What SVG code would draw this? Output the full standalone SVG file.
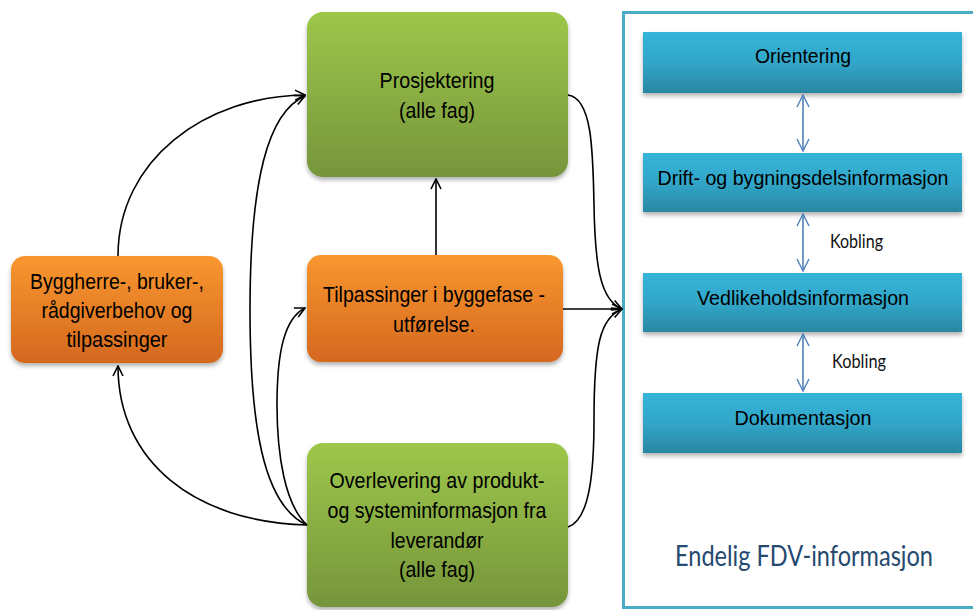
<svg xmlns="http://www.w3.org/2000/svg" width="973" height="610" viewBox="0 0 973 610">
  <defs>
    <linearGradient id="gGreen" x1="0" y1="0" x2="0" y2="1">
      <stop offset="0" stop-color="#9DC74B"/>
      <stop offset="1" stop-color="#76953B"/>
    </linearGradient>
    <linearGradient id="gOrange" x1="0" y1="0" x2="0" y2="1">
      <stop offset="0" stop-color="#F9972F"/>
      <stop offset="1" stop-color="#D4681F"/>
    </linearGradient>
    <linearGradient id="gBlue" x1="0" y1="0" x2="0" y2="1">
      <stop offset="0" stop-color="#36B5DA"/>
      <stop offset="0.5" stop-color="#31A6C9"/>
      <stop offset="1" stop-color="#2A87A2"/>
    </linearGradient>
    <filter id="shadow" x="-10%" y="-10%" width="120%" height="130%">
      <feDropShadow dx="0" dy="3" stdDeviation="2" flood-color="#000" flood-opacity="0.3"/>
    </filter>
    <marker id="arrow" viewBox="0 0 12 12" refX="11" refY="6" markerWidth="12" markerHeight="12" markerUnits="userSpaceOnUse" orient="auto">
      <path d="M1,1 L11,6 L1,11" fill="none" stroke="#000" stroke-width="1.6"/>
    </marker>
    <marker id="barrowEnd" viewBox="0 0 14 14" refX="13" refY="7" markerWidth="14" markerHeight="14" markerUnits="userSpaceOnUse" orient="auto">
      <path d="M1,1 L13,7 L1,13" fill="none" stroke="#4F81BD" stroke-width="1.4"/>
    </marker>
    <marker id="barrowStart" viewBox="0 0 14 14" refX="1" refY="7" markerWidth="14" markerHeight="14" markerUnits="userSpaceOnUse" orient="auto">
      <path d="M13,1 L1,7 L13,13" fill="none" stroke="#4F81BD" stroke-width="1.4"/>
    </marker>
  </defs>
  <style>
    .green { fill: url(#gGreen); filter: url(#shadow); }
    .orange { fill: url(#gOrange); filter: url(#shadow); }
    .blue { fill: url(#gBlue); filter: url(#shadow); }
    .lbl { font-family: "Liberation Sans", Arial, sans-serif; font-size: 22px; fill: #000; text-anchor: middle; }
    .blbl { font-family: "Liberation Sans", Arial, sans-serif; font-size: 20px; fill: #000; text-anchor: middle; }
    .kob { font-family: Lato, "Open Sans", sans-serif; font-size: 19px; fill: #111; }
    .title { font-family: Lato, "Open Sans", sans-serif; font-size: 29px; fill: #25496F; }
    .conn { fill: none; stroke: #000; stroke-width: 1.6; marker-end: url(#arrow); }
    .link { fill: none; stroke: #4F81BD; stroke-width: 1.6; marker-start: url(#barrowStart); marker-end: url(#barrowEnd); }
  </style>

  <rect width="973" height="610" fill="#FFFFFF"/>

  <!-- Container for final FDV information -->
  <g id="fdv-container">
    <rect x="623.5" y="12.5" width="360" height="595" fill="none" stroke="#4BACC6" stroke-width="3"/>
    <text class="title" x="675" y="566" textLength="258" lengthAdjust="spacingAndGlyphs">Endelig FDV-informasjon</text>
  </g>

  <!-- Process boxes -->
  <g id="prosjektering">
    <rect class="green" x="307" y="12" width="261" height="165" rx="16"/>
    <text class="lbl" x="437" y="88" textLength="115" lengthAdjust="spacingAndGlyphs">Prosjektering</text>
    <text class="lbl" x="437" y="118" textLength="76" lengthAdjust="spacingAndGlyphs">(alle fag)</text>
  </g>

  <g id="byggherre">
    <rect class="orange" x="11" y="256" width="212" height="107" rx="14"/>
    <text class="lbl" x="117" y="289" textLength="174" lengthAdjust="spacingAndGlyphs">Byggherre-, bruker-,</text>
    <text class="lbl" x="117" y="318" textLength="151" lengthAdjust="spacingAndGlyphs">rådgiverbehov og</text>
    <text class="lbl" x="117" y="347" textLength="101" lengthAdjust="spacingAndGlyphs">tilpassinger</text>
  </g>

  <g id="tilpassinger">
    <rect class="orange" x="307" y="255" width="256" height="107" rx="14"/>
    <text class="lbl" x="434" y="302" textLength="222" lengthAdjust="spacingAndGlyphs">Tilpassinger i byggefase -</text>
    <text class="lbl" x="434" y="332" textLength="82" lengthAdjust="spacingAndGlyphs">utførelse.</text>
  </g>

  <g id="overlevering">
    <rect class="green" x="307" y="443" width="261" height="164" rx="16"/>
    <text class="lbl" x="437" y="488" textLength="215" lengthAdjust="spacingAndGlyphs">Overlevering av produkt-</text>
    <text class="lbl" x="437" y="518" textLength="219" lengthAdjust="spacingAndGlyphs">og systeminformasjon fra</text>
    <text class="lbl" x="437" y="548" textLength="93" lengthAdjust="spacingAndGlyphs">leverandør</text>
    <text class="lbl" x="437" y="577" textLength="76" lengthAdjust="spacingAndGlyphs">(alle fag)</text>
  </g>

  <!-- FDV information layers -->
  <g id="orientering">
    <rect class="blue" x="643" y="32" width="319" height="61"/>
    <text class="blbl" x="803" y="63" textLength="96" lengthAdjust="spacingAndGlyphs">Orientering</text>
  </g>
  <g id="drift">
    <rect class="blue" x="643" y="153" width="319" height="59"/>
    <text class="blbl" x="803" y="185" textLength="291" lengthAdjust="spacingAndGlyphs">Drift- og bygningsdelsinformasjon</text>
  </g>
  <g id="vedlikehold">
    <rect class="blue" x="643" y="273" width="319" height="59"/>
    <text class="blbl" x="803" y="305" textLength="212" lengthAdjust="spacingAndGlyphs">Vedlikeholdsinformasjon</text>
  </g>
  <g id="dokumentasjon">
    <rect class="blue" x="643" y="393" width="319" height="60"/>
    <text class="blbl" x="803" y="425" textLength="137" lengthAdjust="spacingAndGlyphs">Dokumentasjon</text>
  </g>

  <!-- Connectors -->
  <g id="connectors">
    <path class="conn" d="M118,256 C118,160 205,96 305,95"/>
    <path class="conn" d="M307,525 C195,522 118,462 118,366"/>
    <path class="conn" d="M307,525 C262,505 250,420 250,310 C250,180 268,112 305,96"/>
    <path class="conn" d="M307,525 C285,505 277,455 277,405 C277,350 285,318 305,308"/>
    <path class="conn" d="M436,255 L436,179"/>
    <path class="conn" d="M568,95 C592,98 593,150 594,205 C595,265 600,300 622,309"/>
    <path class="conn" d="M563,309 L622,309"/>
    <path class="conn" d="M568,527 C590,520 594,470 594,420 C594,345 600,318 622,309"/>

    <path class="link" d="M803,95 L803,151"/>
    <path class="link" d="M803,214 L803,271"/>
    <path class="link" d="M803,334 L803,391"/>
    <text class="kob" x="830" y="248" textLength="53" lengthAdjust="spacingAndGlyphs">Kobling</text>
    <text class="kob" x="832" y="368" textLength="54" lengthAdjust="spacingAndGlyphs">Kobling</text>
  </g>
</svg>
